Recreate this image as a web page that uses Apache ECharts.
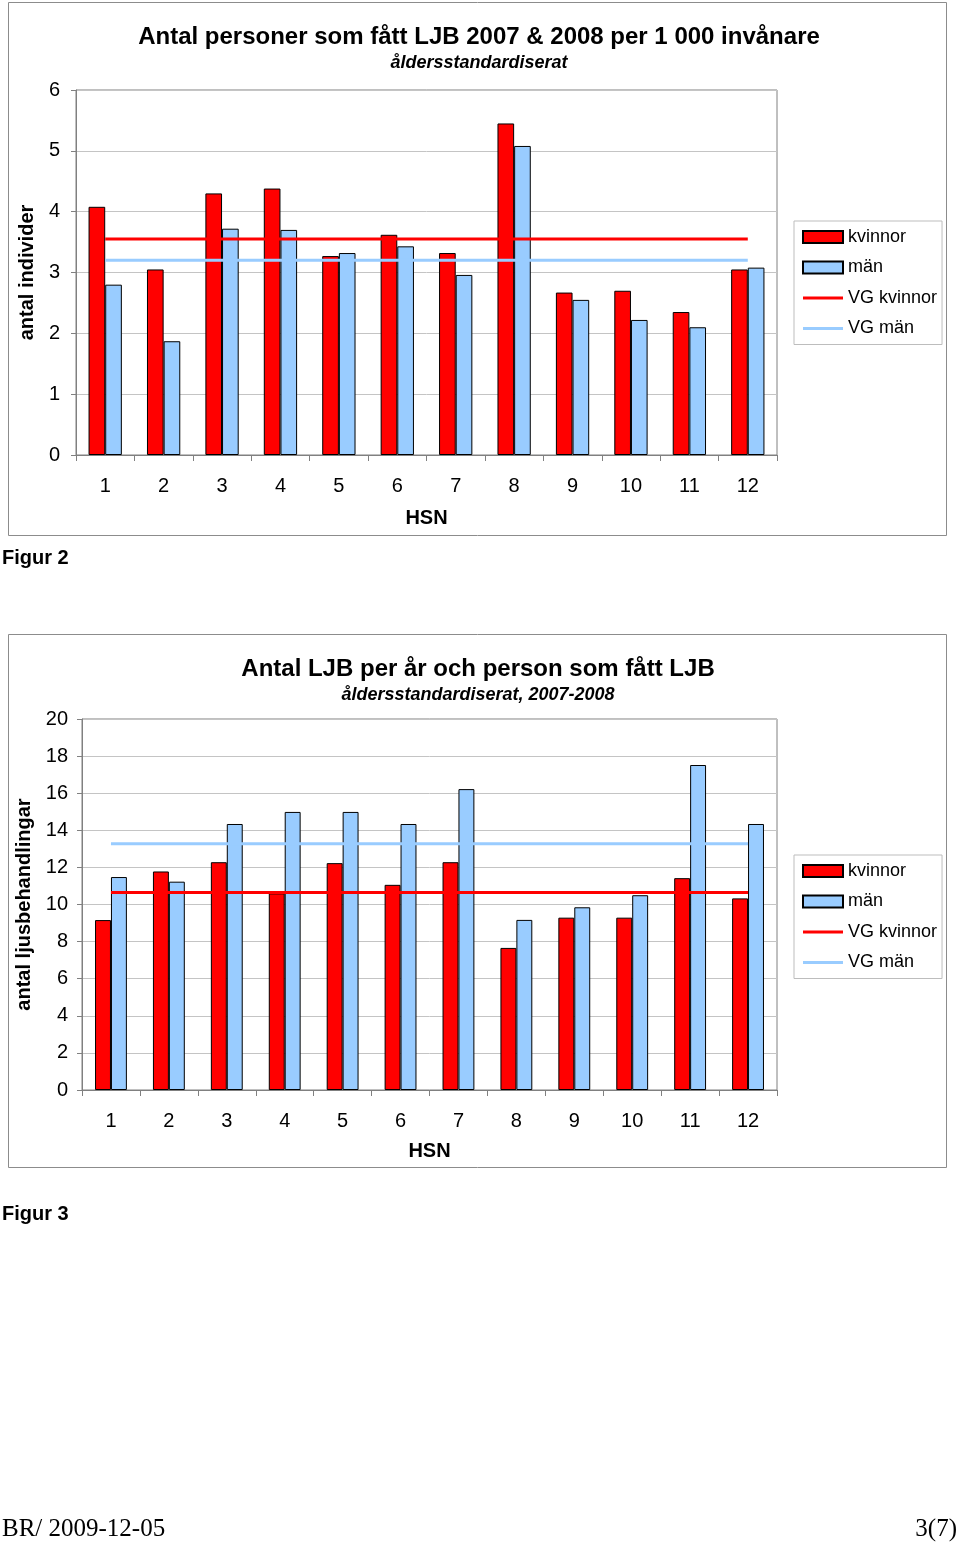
<!DOCTYPE html>
<html>
<head>
<meta charset="utf-8">
<script src="https://cdn.jsdelivr.net/npm/echarts@6/dist/echarts.min.js"></script>
<style>
html,body{margin:0;padding:0;background:#fff;}
#c{width:960px;height:1545px;}
</style>
</head>
<body>
<div id="c"></div>
<script>
// ---- data ----
const categories = ['1','2','3','4','5','6','7','8','9','10','11','12'];
// Figur 2: personer per 1 000 invånare
const kvinnor1 = [4.08, 3.05, 4.30, 4.38, 3.27, 3.62, 3.32, 5.45, 2.67, 2.70, 2.35, 3.05];
const man1     = [2.80, 1.87, 3.72, 3.70, 3.32, 3.43, 2.96, 5.08, 2.55, 2.22, 2.10, 3.08];
const vgKvinnor1 = 3.55;
const vgMan1 = 3.20;
// Figur 3: LJB per år och person
const kvinnor2 = [9.16, 11.78, 12.28, 10.60, 12.23, 11.06, 12.28, 7.66, 9.29, 9.29, 11.42, 10.33];
const man2     = [11.48, 11.23, 14.34, 14.99, 14.99, 14.34, 16.22, 9.17, 9.85, 10.50, 17.52, 14.34];
const vgKvinnor2 = 10.65;
const vgMan2 = 13.28;
const seriesNames = ['kvinnor', 'män', 'VG kvinnor', 'VG män'];
const texts = {
  title1: 'Antal personer som fått LJB 2007 & 2008 per 1 000 invånare',
  sub1: 'åldersstandardiserat',
  yName1: 'antal individer',
  title2: 'Antal LJB per år och person som fått LJB',
  sub2: 'åldersstandardiserat, 2007-2008',
  yName2: 'antal ljusbehandlingar',
  xName: 'HSN',
  fig2: 'Figur 2',
  fig3: 'Figur 3',
  footerLeft: 'BR/ 2009-12-05',
  footerRight: '3(7)'
};

const FONT = '"Liberation Sans", Arial, sans-serif';
const RED = '#ff0000', BLUE = '#99ccff';

const chart = echarts.init(document.getElementById('c'), null, {renderer: 'canvas'});

function xAxis(gi, nameGap, margin) {
  return {
    type: 'category', gridIndex: gi, data: categories,
    name: texts.xName, nameLocation: 'middle', nameGap: nameGap,
    nameTextStyle: {fontFamily: FONT, fontWeight: 'bold', fontSize: 20, color: '#000'},
    axisLine: {lineStyle: {color: '#808080', width: 1}},
    axisTick: {show: true, length: 6, lineStyle: {color: '#808080'}},
    axisLabel: {fontFamily: FONT, fontSize: 20, color: '#000', margin: margin}
  };
}
function yAxis(gi, max, interval, name, nameGap, margin) {
  return {
    type: 'value', gridIndex: gi, min: 0, max: max, interval: interval,
    name: name, nameLocation: 'middle', nameGap: nameGap, nameRotate: 90,
    nameTextStyle: {fontFamily: FONT, fontWeight: 'bold', fontSize: 20, color: '#000'},
    axisLine: {show: true, lineStyle: {color: '#808080', width: 1}},
    axisTick: {show: true, length: 5, lineStyle: {color: '#808080'}},
    axisLabel: {fontFamily: FONT, fontSize: 20, color: '#000', margin: margin},
    splitLine: {show: true, lineStyle: {color: '#c4c4c4', width: 1}}
  };
}
function barSeries(name, data, color, gi, gap) {
  return {
    name: name, type: 'bar', xAxisIndex: gi, yAxisIndex: gi, data: data,
    barGap: '0%', barCategoryGap: gap,
    itemStyle: {color: color, borderColor: '#000', borderWidth: 1},
    emphasis: {disabled: true}, z: 2
  };
}
function lineSeries(name, value, color, gi) {
  return {
    name: name, type: 'line', xAxisIndex: gi, yAxisIndex: gi,
    data: categories.map(() => value),
    symbol: 'none', showSymbol: false,
    lineStyle: {color: color, width: 3},
    itemStyle: {color: color},
    emphasis: {disabled: true}, z: 3
  };
}
const LINE_ICON = 'path://M0,0 L40,0 L40,3 L0,3 Z';
function legend(top) {
  return {
    left: 794, top: top, orient: 'vertical',
    data: [
      {name: 'kvinnor', icon: 'rect'},
      {name: 'män', icon: 'rect'},
      {name: 'VG kvinnor', icon: LINE_ICON, itemStyle: {borderWidth: 0}},
      {name: 'VG män', icon: LINE_ICON, itemStyle: {borderWidth: 0}}
    ],
    symbolKeepAspect: true,
    itemWidth: 40, itemHeight: 12, itemGap: 12.5,
    padding: [7, 5, 7, 8],
    borderColor: '#bdbdbd', borderWidth: 1,
    textStyle: {fontFamily: FONT, fontSize: 18, color: '#000'},
    selectedMode: false
  };
}
function txt(x, y, text, size, opts) {
  return {
    type: 'text', x: x, y: y, silent: true,
    style: Object.assign({
      text: text, fontFamily: FONT, fontSize: size, fill: '#000',
      textAlign: 'left', textVerticalAlign: 'middle'
    }, opts || {})
  };
}

const option = {
  animation: false,
  backgroundColor: '#fff',
  grid: [
    {left: 76, top: 90, width: 701, height: 365, show: true, borderColor: '#808080', borderWidth: 1, backgroundColor: 'transparent'},
    {left: 82, top: 719, width: 695, height: 371, show: true, borderColor: '#808080', borderWidth: 1, backgroundColor: 'transparent'}
  ],
  xAxis: [xAxis(0, 53, 21), xAxis(1, 51, 21)],
  yAxis: [
    yAxis(0, 6, 1, texts.yName1, 39, 16),
    yAxis(1, 20, 2, texts.yName2, 45, 14)
  ],
  legend: [legend(221), legend(855)],
  series: [
    barSeries('kvinnor', kvinnor1, RED, 0, '43%'),
    barSeries('män', man1, BLUE, 0, '43%'),
    lineSeries('VG kvinnor', vgKvinnor1, RED, 0),
    lineSeries('VG män', vgMan1, BLUE, 0),
    barSeries('kvinnor', kvinnor2, RED, 1, '45%'),
    barSeries('män', man2, BLUE, 1, '45%'),
    lineSeries('VG kvinnor', vgKvinnor2, RED, 1),
    lineSeries('VG män', vgMan2, BLUE, 1)
  ],
  graphic: [
    {type: 'rect', silent: true, z: -1, shape: {x: 8.5, y: 2.5, width: 938, height: 533}, style: {fill: 'none', stroke: '#8c8c8c', lineWidth: 1}},
    {type: 'rect', silent: true, z: -1, shape: {x: 8.5, y: 634.5, width: 938, height: 533}, style: {fill: 'none', stroke: '#8c8c8c', lineWidth: 1}},
    txt(479, 37, texts.title1, 24, {fontWeight: 'bold', textAlign: 'center'}),
    txt(479, 63, texts.sub1, 18, {fontWeight: 'bold', fontStyle: 'italic', textAlign: 'center'}),
    txt(478, 669, texts.title2, 24, {fontWeight: 'bold', textAlign: 'center'}),
    txt(478, 695, texts.sub2, 18, {fontWeight: 'bold', fontStyle: 'italic', textAlign: 'center'}),
    txt(2, 558, texts.fig2, 20, {fontWeight: 'bold'}),
    txt(2, 1214, texts.fig3, 20, {fontWeight: 'bold'}),
    txt(2, 1529, texts.footerLeft, 25, {fontFamily: '"Liberation Serif", "Times New Roman", serif'}),
    txt(957, 1529, texts.footerRight, 25, {fontFamily: '"Liberation Serif", "Times New Roman", serif', textAlign: 'right'})
  ]
};
chart.setOption(option);
</script>
</body>
</html>
